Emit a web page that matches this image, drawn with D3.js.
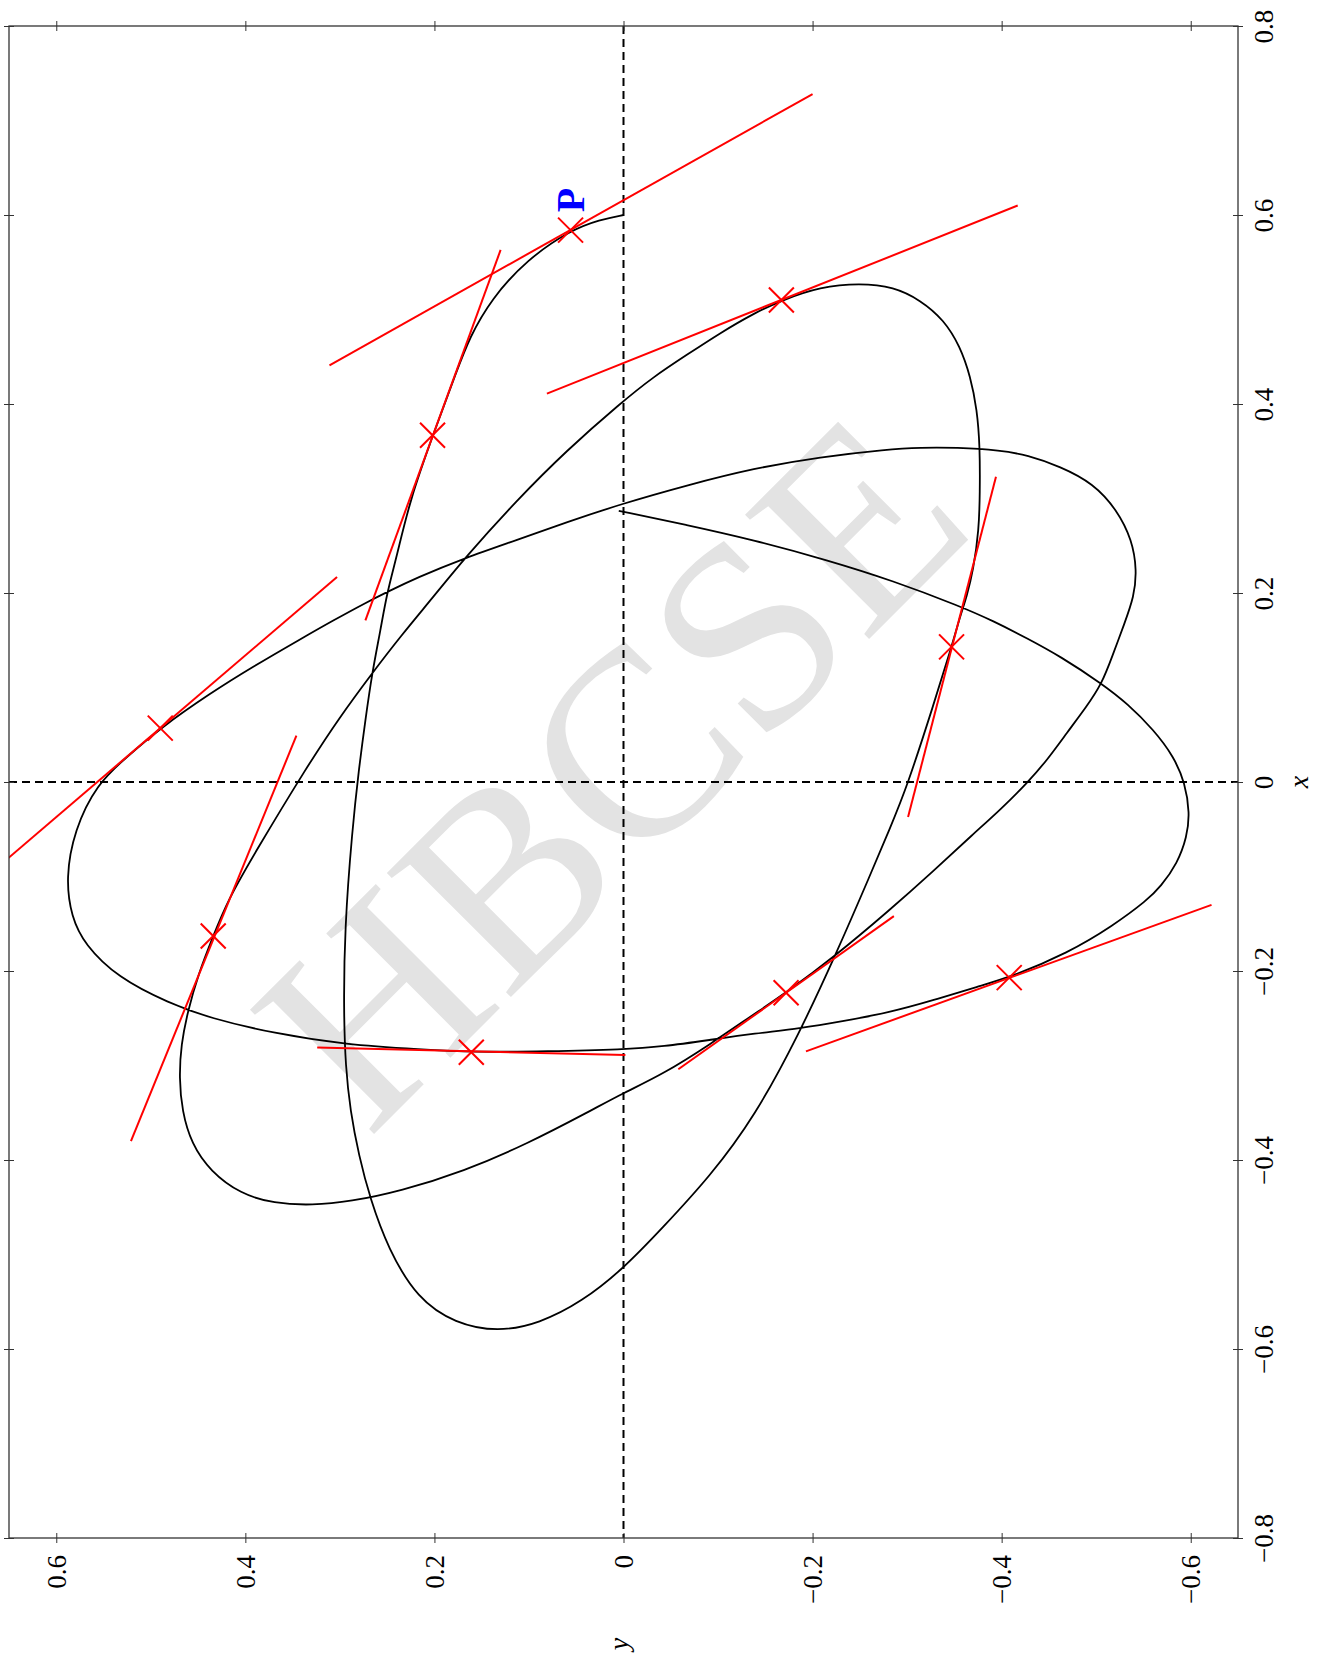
<!DOCTYPE html>
<html>
<head>
<meta charset="utf-8">
<script src="https://cdn.jsdelivr.net/npm/d3@7"></script>
<style>
  body { margin: 0; background: #fff; }
  svg { display: block; }
</style>
</head>
<body>
<svg id="chart" width="1322" height="1657"></svg>
<script>
// orbit, in the order it is drawn (y horizontal, x vertical)
const orbitY = [
  0.000, 0.025, 0.056, 0.102, 0.140, 0.163, 0.176, 0.202, 0.226, 0.240, 0.250, 0.257, 0.266, 0.273, 0.280, 0.287,
  0.295, 0.296, 0.294, 0.289, 0.280, 0.268, 0.249, 0.218, 0.178, 0.133, 0.089, 0.044, 0.000, -0.042,
  -0.091, -0.139, -0.186, -0.224, -0.262, -0.281, -0.300, -0.328, -0.347, -0.356, -0.363, -0.370, -0.376, -0.377,
  -0.377, -0.374, -0.367, -0.356, -0.339, -0.314, -0.286, -0.250, -0.208, -0.168, -0.138, -0.102, -0.067, -0.032,
  0.003, 0.060, 0.113, 0.168, 0.201, 0.236, 0.266, 0.300, 0.335, 0.390,
  0.419, 0.434, 0.450, 0.461, 0.468, 0.470, 0.467, 0.457, 0.437, 0.405, 0.370, 0.329, 0.289, 0.236, 0.169,
  0.102, 0.035, 0.000, -0.042, -0.091, -0.139, -0.172, -0.224, -0.281, -0.328, -0.370, -0.399, -0.427,
  -0.448, -0.469, -0.490, -0.506, -0.517, -0.530, -0.540, -0.543, -0.538, -0.522, -0.497, -0.462, -0.427,
  -0.399, -0.352, -0.314, -0.279, -0.208, -0.138, -0.067, 0.003, 0.060, 0.113, 0.168, 0.219, 0.250,
  0.272, 0.307, 0.342, 0.392, 0.437, 0.490, 0.526, 0.557, 0.581, 0.590, 0.584, 0.570, 0.535, 0.481,
  0.437, 0.370, 0.294, 0.213, 0.161, 0.080, 0.000, -0.042, -0.091, -0.139, -0.186, -0.233, -0.281,
  -0.328, -0.376, -0.408, -0.470, -0.518, -0.554, -0.568, -0.586, -0.596, -0.599, -0.594, -0.582, -0.561,
  -0.533, -0.506, -0.462, -0.427, -0.392, -0.356, -0.285, -0.215, -0.138, -0.067, 0.005
];
const orbitX = [
  0.600, 0.595, 0.584, 0.553, 0.511, 0.470, 0.436, 0.366, 0.298, 0.238, 0.201, 0.161, 0.115, 0.066, 0.013, -0.051,
  -0.155, -0.243, -0.301, -0.348, -0.395, -0.441, -0.494, -0.547, -0.573, -0.582, -0.573, -0.550, -0.515, -0.471,
  -0.418, -0.354, -0.266, -0.184, -0.096, -0.051, -0.005, 0.082, 0.143, 0.175, 0.196, 0.224, 0.267, 0.306,
  0.355, 0.394, 0.429, 0.461, 0.489, 0.510, 0.524, 0.528, 0.524, 0.510, 0.496, 0.475, 0.452, 0.429,
  0.401, 0.351, 0.298, 0.237, 0.196, 0.154, 0.115, 0.069, 0.016, -0.075,
  -0.126, -0.163, -0.204, -0.243, -0.278, -0.313, -0.348, -0.383, -0.412, -0.436, -0.446, -0.448, -0.444, -0.433, -0.412,
  -0.383, -0.348, -0.329, -0.309, -0.278, -0.245, -0.223, -0.184, -0.136, -0.094, -0.055, -0.029, -0.001,
  0.023, 0.052, 0.080, 0.104, 0.133, 0.168, 0.196, 0.224, 0.256, 0.288, 0.316, 0.334, 0.346,
  0.351, 0.354, 0.354, 0.352, 0.344, 0.332, 0.314, 0.294, 0.275, 0.256, 0.237, 0.216, 0.201,
  0.190, 0.171, 0.151, 0.122, 0.094, 0.057, 0.026, -0.002, -0.051, -0.102, -0.143, -0.172, -0.207, -0.234,
  -0.250, -0.266, -0.278, -0.283, -0.286, -0.285, -0.283, -0.280, -0.273, -0.266, -0.261, -0.253, -0.244,
  -0.231, -0.216, -0.207, -0.181, -0.152, -0.125, -0.111, -0.086, -0.058, -0.033, -0.001, 0.027, 0.055,
  0.083, 0.104, 0.133, 0.152, 0.170, 0.186, 0.213, 0.235, 0.256, 0.272, 0.287
];

// sample points (crosses) and their tangent segments
const markY = [0.056, 0.202, -0.167, 0.490, 0.434, 0.161, -0.172, -0.408, -0.347];
const markX = [0.584, 0.367, 0.510, 0.057, -0.163, -0.286, -0.223, -0.207, 0.143];
const tanY1 = [0.311, 0.130, -0.417, 0.303, 0.346, 0.324, -0.058, -0.193, -0.394];
const tanX1 = [0.441, 0.563, 0.610, 0.217, 0.049, -0.281, -0.304, -0.285, 0.323];
const tanY2 = [-0.200, 0.273, 0.081, 0.677, 0.521, -0.002, -0.286, -0.622, -0.301];
const tanX2 = [0.728, 0.171, 0.411, -0.103, -0.380, -0.289, -0.142, -0.130, -0.037];

const xTicks = [-0.8, -0.6, -0.4, -0.2, 0, 0.2, 0.4, 0.6, 0.8];
const yTicks = [-0.6, -0.4, -0.2, 0, 0.2, 0.4, 0.6];

const svg = d3.select("#chart");
const serif = "'Liberation Serif', 'DejaVu Serif', serif";

// x runs up the page, y runs right-to-left (figure is turned on its side)
const xScale = d3.scaleLinear().domain([-0.8, 0.8]).range([1538, 26]);
const yScale = d3.scaleLinear().domain([0.65, -0.65]).range([9, 1238]);
const pLeft = yScale.range()[0], pRight = yScale.range()[1];
const pTop = xScale.range()[1], pBottom = xScale.range()[0];

svg.append("rect").attr("width", 1322).attr("height", 1657).attr("fill", "#fff");

// watermark
svg.append("text")
  .attr("transform", "translate(674,834) rotate(-45)")
  .attr("text-anchor", "middle")
  .attr("font-family", serif)
  .attr("font-size", 268)
  .attr("fill", "#e3e3e3")
  .text("HBCSE");

svg.append("clipPath").attr("id", "plot-clip")
  .append("rect")
  .attr("x", pLeft).attr("y", pTop)
  .attr("width", pRight - pLeft).attr("height", pBottom - pTop);

const plot = svg.append("g").attr("clip-path", "url(#plot-clip)");

// dashed zero lines
plot.append("line")
  .attr("x1", pLeft).attr("x2", pRight)
  .attr("y1", xScale(0)).attr("y2", xScale(0))
  .attr("stroke", "#000").attr("stroke-width", 2).attr("stroke-dasharray", "8,5");
plot.append("line")
  .attr("x1", yScale(0)).attr("x2", yScale(0))
  .attr("y1", pTop).attr("y2", pBottom)
  .attr("stroke", "#000").attr("stroke-width", 2).attr("stroke-dasharray", "8,5");

// the orbit (basis spline to smooth out reading noise)
const line = d3.line()
  .x(i => yScale(orbitY[i]))
  .y(i => xScale(orbitX[i]))
  .curve(d3.curveBasis);

plot.append("path")
  .attr("d", line(d3.range(orbitX.length)))
  .attr("fill", "none")
  .attr("stroke", "#000")
  .attr("stroke-width", 1.8)
  .attr("stroke-linejoin", "round");

// tangents
plot.selectAll(".tangent")
  .data(d3.range(markX.length))
  .join("line")
  .attr("class", "tangent")
  .attr("x1", i => yScale(tanY1[i]))
  .attr("y1", i => xScale(tanX1[i]))
  .attr("x2", i => yScale(tanY2[i]))
  .attr("y2", i => xScale(tanX2[i]))
  .attr("stroke", "#ff0000")
  .attr("stroke-width", 2);

// crosses
const r = 12.5;
plot.selectAll(".mark")
  .data(d3.range(markX.length))
  .join("path")
  .attr("class", "mark")
  .attr("d", i => {
    const cx = yScale(markY[i]), cy = xScale(markX[i]);
    return `M${cx - r},${cy - r}L${cx + r},${cy + r}M${cx - r},${cy + r}L${cx + r},${cy - r}`;
  })
  .attr("stroke", "#ff0000")
  .attr("stroke-width", 2)
  .attr("fill", "none");

// label of the starting point
svg.append("text")
  .attr("transform", `translate(${yScale(markY[0]) + 13},${xScale(markX[0]) - 30}) rotate(-90)`)
  .attr("text-anchor", "middle")
  .attr("font-family", serif)
  .attr("font-weight", "bold")
  .attr("font-size", 40)
  .attr("fill", "#0000ff")
  .text("P");

// frame
svg.append("rect")
  .attr("x", pLeft).attr("y", pTop)
  .attr("width", pRight - pLeft).attr("height", pBottom - pTop)
  .attr("fill", "none")
  .attr("stroke", "#333")
  .attr("stroke-width", 1.3);

const fmt = d => d === 0 ? "0" : d3.format(".1f")(d);
const noLabel = () => "";
const tidy = g => g.attr("color", "#333").call(g => g.select(".domain").remove());

// ticks crossing the frame on all four sides
svg.append("g").attr("transform", `translate(${pRight},0)`)
  .call(d3.axisRight(xScale).tickValues(xTicks).tickSize(5).tickFormat(fmt))
  .call(tidy)
  .call(g => g.selectAll("text")
    .attr("x", null).attr("dy", null)
    .attr("transform", "translate(35,0) rotate(-90)")
    .attr("text-anchor", "middle")
    .attr("fill", "#000")
    .attr("font-family", serif)
    .attr("font-size", 27));
svg.append("g").attr("transform", `translate(${pRight},0)`)
  .call(d3.axisLeft(xScale).tickValues(xTicks).tickSize(5).tickFormat(noLabel)).call(tidy);
svg.append("g").attr("transform", `translate(${pLeft},0)`)
  .call(d3.axisLeft(xScale).tickValues(xTicks).tickSize(5).tickFormat(noLabel)).call(tidy);
svg.append("g").attr("transform", `translate(${pLeft},0)`)
  .call(d3.axisRight(xScale).tickValues(xTicks).tickSize(5).tickFormat(noLabel)).call(tidy);

svg.append("g").attr("transform", `translate(0,${pBottom})`)
  .call(d3.axisBottom(yScale).tickValues(yTicks).tickSize(5).tickFormat(fmt))
  .call(tidy)
  .call(g => g.selectAll("text")
    .attr("y", null).attr("dy", null)
    .attr("transform", "translate(9,17) rotate(-90)")
    .attr("text-anchor", "end")
    .attr("fill", "#000")
    .attr("font-family", serif)
    .attr("font-size", 27));
svg.append("g").attr("transform", `translate(0,${pBottom})`)
  .call(d3.axisTop(yScale).tickValues(yTicks).tickSize(5).tickFormat(noLabel)).call(tidy);
svg.append("g").attr("transform", `translate(0,${pTop})`)
  .call(d3.axisTop(yScale).tickValues(yTicks).tickSize(5).tickFormat(noLabel)).call(tidy);
svg.append("g").attr("transform", `translate(0,${pTop})`)
  .call(d3.axisBottom(yScale).tickValues(yTicks).tickSize(5).tickFormat(noLabel)).call(tidy);

// axis names
svg.append("text")
  .attr("transform", `translate(1308,${xScale(0)}) rotate(-90)`)
  .attr("text-anchor", "middle")
  .attr("font-family", serif)
  .attr("font-style", "italic")
  .attr("font-size", 28)
  .text("x");
svg.append("text")
  .attr("transform", `translate(628,1644) rotate(-90)`)
  .attr("text-anchor", "middle")
  .attr("font-family", serif)
  .attr("font-style", "italic")
  .attr("font-size", 28)
  .text("y");
</script>
</body>
</html>
